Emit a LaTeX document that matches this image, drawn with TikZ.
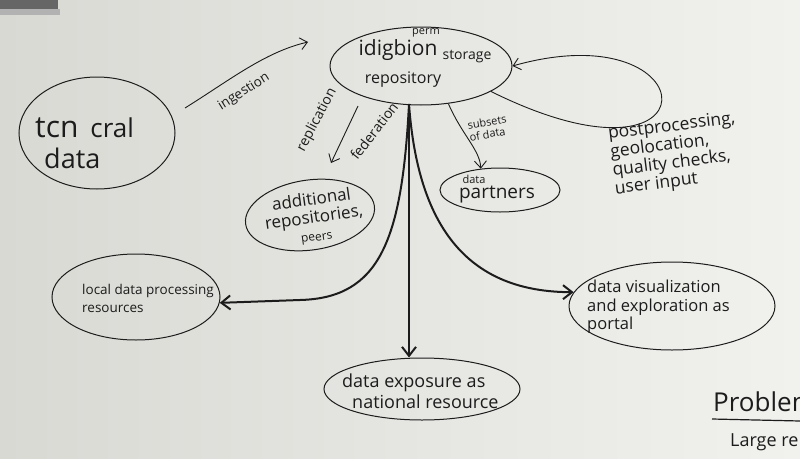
\documentclass[tikz,border=0pt]{standalone}
\usepackage{fontspec}
\setmainfont{Open Sans}
\usetikzlibrary{shapes.geometric,arrows.meta}
\definecolor{ink}{HTML}{1C1C1C}
\definecolor{boardL}{HTML}{D9D9D4}
\definecolor{boardR}{HTML}{F1F1EE}
\newcommand\hsz[2]{\fontsize{#1}{#2}\selectfont}
\begin{document}
\begin{tikzpicture}[x=1pt,y=-1pt,
  bubble/.style={draw=ink,ellipse,line width=1pt,inner sep=0pt},
  txt/.style={text=ink,inner sep=0pt,align=left},
  conn/.style={draw=ink,line width=0.9pt,-{Straight Barb[length=7pt,width=12pt]}},
  heavyconn/.style={draw=ink,line width=2pt,-{Straight Barb[length=9pt,width=14pt]}}]
\useasboundingbox (0,0) rectangle (800,458);
\shade[left color=boardL,right color=boardR] (0,0) rectangle (800,458);
\fill[black!60] (0,0) rectangle (58,9);
\fill[black!30] (0,9) rectangle (60,15);

% ellipses
\node[bubble,minimum width=182,minimum height=78] (idig) at (421,66) {};
\node[bubble,minimum width=156,minimum height=112] (tcn) at (97,133) {};
\node[bubble,minimum width=120,minimum height=44] (part) at (500,190) {};
\node[bubble,minimum width=130,minimum height=70,rotate=8] (addl) at (310,215) {};
\node[bubble,minimum width=168,minimum height=86] (loc) at (136,297) {};
\node[bubble,minimum width=206,minimum height=88] (vis) at (672,306) {};
\node[bubble,minimum width=196,minimum height=62] (exp) at (422,389) {};

% texts in ellipses
\node[txt,font=\hsz{21}{24}] (idigt) at (398,50) {idigbion};
\node[txt,font=\hsz{14}{16}] (stor) at (467,57) {storage};
\node[txt,font=\hsz{11}{12}] (perm) at (426,33) {perm};
\node[txt,font=\hsz{16}{18}] (repo) at (403,80) {repository};
\node[txt,anchor=west] (tcnt) at (35,128) {{\hsz{30}{32}tcn}\hspace{12pt}{\hsz{26}{28}cral}};
\node[txt,font=\hsz{27}{29},anchor=west] (tcnd) at (44,158) {data};
\node[txt,font=\hsz{11}{12}] (partd) at (474,179) {data};
\node[txt,font=\hsz{19}{20}] (partt) at (497,195) {partners};
\node[txt,align=center,rotate=8,font=\hsz{17}{18}] (addt) at (314,218) {additional\\repositories,\\{\hsz{12}{13}peers}};
\node[txt,font=\hsz{13.5}{18},anchor=west] (loct) at (82,298) {local data processing\\resources};
\node[txt,font=\hsz{16.5}{18.5},anchor=west] (vist) at (587,307) {data visualization\\and exploration as\\portal};
\node[txt,font=\hsz{18}{21},anchor=west] (expt) at (342,391) {data exposure as\\\hspace{10pt}national resource};

% edge labels
\node[txt,font=\hsz{13.5}{15},rotate=32] (ingl) at (244,92) {ingestion};
\node[txt,font=\hsz{14}{15},rotate=62] (repl) at (317,120) {replication};
\node[txt,font=\hsz{14}{15},rotate=52] (fedl) at (374,131) {federation};
\node[txt,font=\hsz{11}{12},rotate=10] (subl) at (488,128) {subsets\\of data};
\node[txt,font=\hsz{17.5}{18.5},rotate=7,anchor=north west] (ppl) at (607,126) {postprocessing,\\geolocation,\\quality checks,\\user input};

% problem text
\node[txt,font=\hsz{26}{28},anchor=west] (prob) at (713,402) {Problem};
\node[txt,font=\hsz{18}{20},anchor=west] (large) at (730,442) {Large re};
\coordinate (ul0) at (712,419);
\coordinate (ul1) at (800,421);
\draw[ink,line width=1.2pt] (ul0) -- (ul1);

% connectors
\coordinate (ing0) at (185,108);
\coordinate (ing1) at (308,42);
\draw[conn] (ing0) .. controls (230,80) and (265,52) .. (ing1);
\coordinate (fed0) at (358,106);
\coordinate (fed1) at (331,163);
\draw[conn] (fed0) -- (fed1);
\draw[conn] (idig.-54) .. controls (462,135) and (480,150) .. (part.132);
\draw[conn] (idig.-20) .. controls (720,205) and (710,10) .. (idig.0);

\coordinate (hub) at (409,104);
\draw[heavyconn] (hub) .. controls (402,240) and (380,298) .. (300,300) -- (loc.-4);
\draw[heavyconn] (hub) -- (hub |- exp.north);
\draw[heavyconn] (hub) .. controls (418,230) and (470,292) .. (vis.172);
\end{tikzpicture}
\end{document}
